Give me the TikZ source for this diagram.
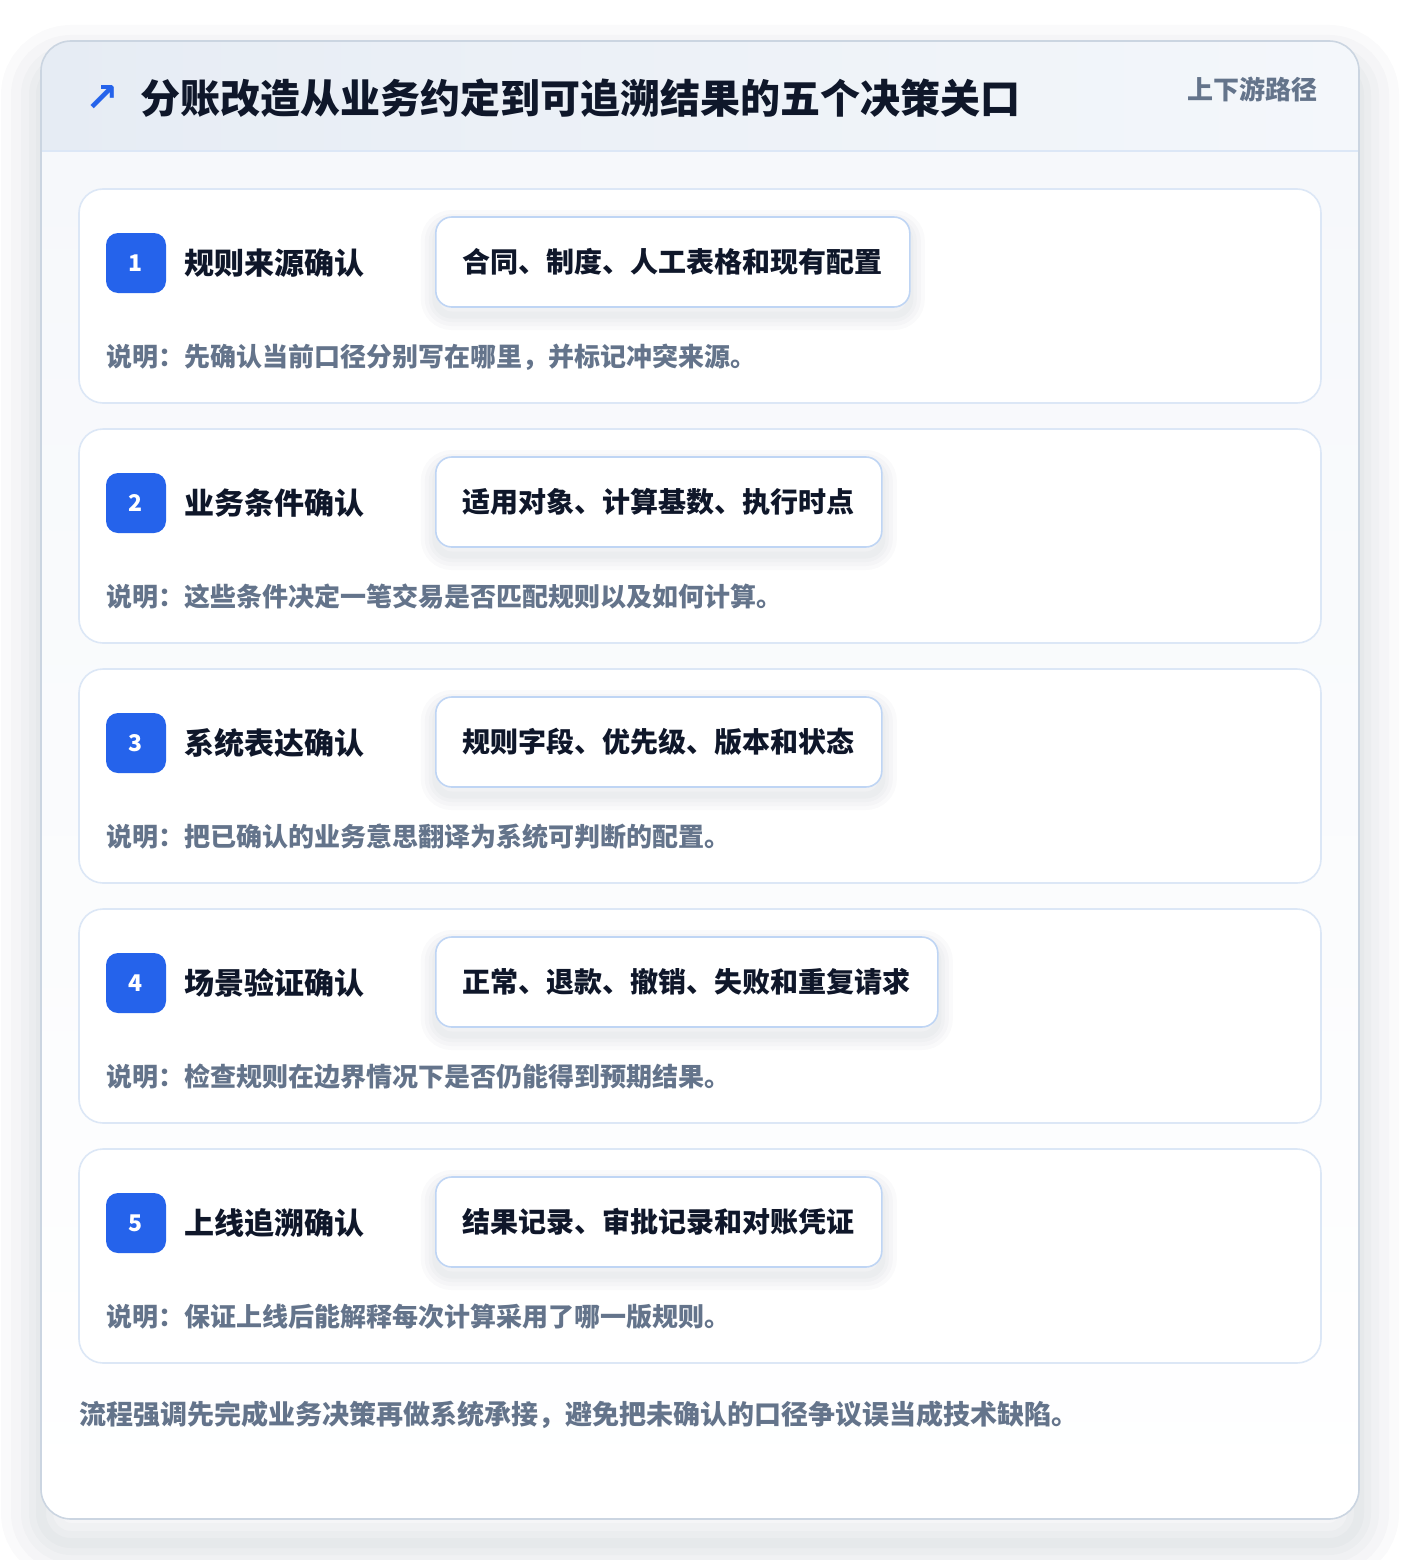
\documentclass[tikz,border=0pt]{standalone}
\usepackage{fontspec}
\setmainfont{Noto Sans CJK SC}
\newfontfamily\symfont{DejaVu Sans}
\usepackage{tikz}
\usetikzlibrary{positioning}
\definecolor{ink}{HTML}{0F172A}
\definecolor{muted}{HTML}{64748B}
\definecolor{brand}{HTML}{2563EB}
\definecolor{frame}{HTML}{CBD5E1}
\definecolor{cardline}{HTML}{DCE7F6}
\definecolor{pillline}{HTML}{BFD5F4}
\definecolor{bodybg}{HTML}{F6F8FB}
\definecolor{headL}{HTML}{E6ECF4}
\definecolor{headR}{HTML}{F4F7FB}
\definecolor{shade}{HTML}{1E293B}
\tikzset{softshadow/.style={preaction={draw=shade, line width=#1, opacity=0.018, transform canvas={yshift=-8pt}}}}
\tikzset{framehalo/.style={preaction={draw=shade, line width=#1, opacity=0.02, transform canvas={yshift=-24pt}}}}
\tikzset{card/.style={draw=cardline, line width=1.6pt, fill=white, rounded corners=24pt, minimum width=1242pt, minimum height=214pt, inner sep=0pt}}
\tikzset{badge/.style={fill=brand, rounded corners=12pt, minimum width=60pt, minimum height=60pt, inner sep=0pt, text=white, font=\fontsize{23}{23}\selectfont\bfseries}}
\tikzset{steptitle/.style={inner sep=0pt, text=ink, font=\fontsize{30}{30}\selectfont\bfseries}}
\tikzset{pill/.style={softshadow=30pt, softshadow=22pt, softshadow=14pt, softshadow=7pt, draw=pillline, line width=1.6pt, fill=white, rounded corners=16pt, minimum height=90pt, inner xsep=27pt, text=ink, font=\fontsize{28}{28}\selectfont\bfseries}}
\tikzset{note/.style={inner sep=0pt, text=muted, font=\fontsize{26}{26}\selectfont\bfseries}}

\begin{document}
\begin{tikzpicture}[x=1pt, y=-1pt]
    \useasboundingbox (0, 0) rectangle (1400, 1560);
    \fill [white] (0, 0) rectangle (1400, 1560);

    % outer frame
    \coordinate (FNW) at (41, 41);
    \coordinate (FSE) at (1359, 1519);
    \path [rounded corners=30pt, framehalo=80pt, framehalo=60pt, framehalo=40pt, framehalo=24pt, framehalo=10pt] (FNW) rectangle (FSE);
    \begin{scope}
        \clip [rounded corners=30pt] (FNW) rectangle (FSE);
        \shade [top color=bodybg, bottom color=white] (41, 151) rectangle (1359, 1519);
        \shade [left color=headL, right color=headR] (41, 41) rectangle (1359, 151);
        \draw [cardline, line width=1.6pt] (41, 151) -- (1359, 151);
    \end{scope}
    \draw [frame, line width=1.6pt, rounded corners=30pt] (FNW) rectangle (FSE);

    % header
    \node [text=brand, inner sep=0pt, font=\symfont\bfseries\fontsize{40}{40}\selectfont] (icon) at (102, 99) {↗};
    \node [anchor=west, inner sep=0pt, text=ink, font=\fontsize{40}{40}\selectfont\bfseries] (headline) at (140, 98) {分账改造从业务约定到可追溯结果的五个决策关口};
    \node [anchor=east, inner sep=0pt, text=muted, font=\fontsize{26}{26}\selectfont\bfseries] (route) at (1318, 89) {上下游路径};

    % step 1
    \node [card] (card1) at (700, 296) {};
    \node [badge] (badge1) at (136, 263) {1};
    \node [steptitle, right=18pt of badge1] (title1) {规则来源确认};
    \node [pill, anchor=west] (pill1) at (435, 262) {合同、制度、人工表格和现有配置};
    \node [note, anchor=west] (note1) at (106, 357) {说明：先确认当前口径分别写在哪里，并标记冲突来源。};

    % step 2
    \node [card] (card2) at (700, 536) {};
    \node [badge] (badge2) at (136, 503) {2};
    \node [steptitle, right=18pt of badge2] (title2) {业务条件确认};
    \node [pill, anchor=west] (pill2) at (435, 502) {适用对象、计算基数、执行时点};
    \node [note, anchor=west] (note2) at (106, 597) {说明：这些条件决定一笔交易是否匹配规则以及如何计算。};

    % step 3
    \node [card] (card3) at (700, 776) {};
    \node [badge] (badge3) at (136, 743) {3};
    \node [steptitle, right=18pt of badge3] (title3) {系统表达确认};
    \node [pill, anchor=west] (pill3) at (435, 742) {规则字段、优先级、版本和状态};
    \node [note, anchor=west] (note3) at (106, 837) {说明：把已确认的业务意思翻译为系统可判断的配置。};

    % step 4
    \node [card] (card4) at (700, 1016) {};
    \node [badge] (badge4) at (136, 983) {4};
    \node [steptitle, right=18pt of badge4] (title4) {场景验证确认};
    \node [pill, anchor=west] (pill4) at (435, 982) {正常、退款、撤销、失败和重复请求};
    \node [note, anchor=west] (note4) at (106, 1077) {说明：检查规则在边界情况下是否仍能得到预期结果。};

    % step 5
    \node [card] (card5) at (700, 1256) {};
    \node [badge] (badge5) at (136, 1223) {5};
    \node [steptitle, right=18pt of badge5] (title5) {上线追溯确认};
    \node [pill, anchor=west] (pill5) at (435, 1222) {结果记录、审批记录和对账凭证};
    \node [note, anchor=west] (note5) at (106, 1317) {说明：保证上线后能解释每次计算采用了哪一版规则。};

    % footer
    \node [note, anchor=west, font=\fontsize{27}{27}\selectfont\bfseries] (footer) at (79, 1415) {流程强调先完成业务决策再做系统承接，避免把未确认的口径争议误当成技术缺陷。};
\end{tikzpicture}
\end{document}
